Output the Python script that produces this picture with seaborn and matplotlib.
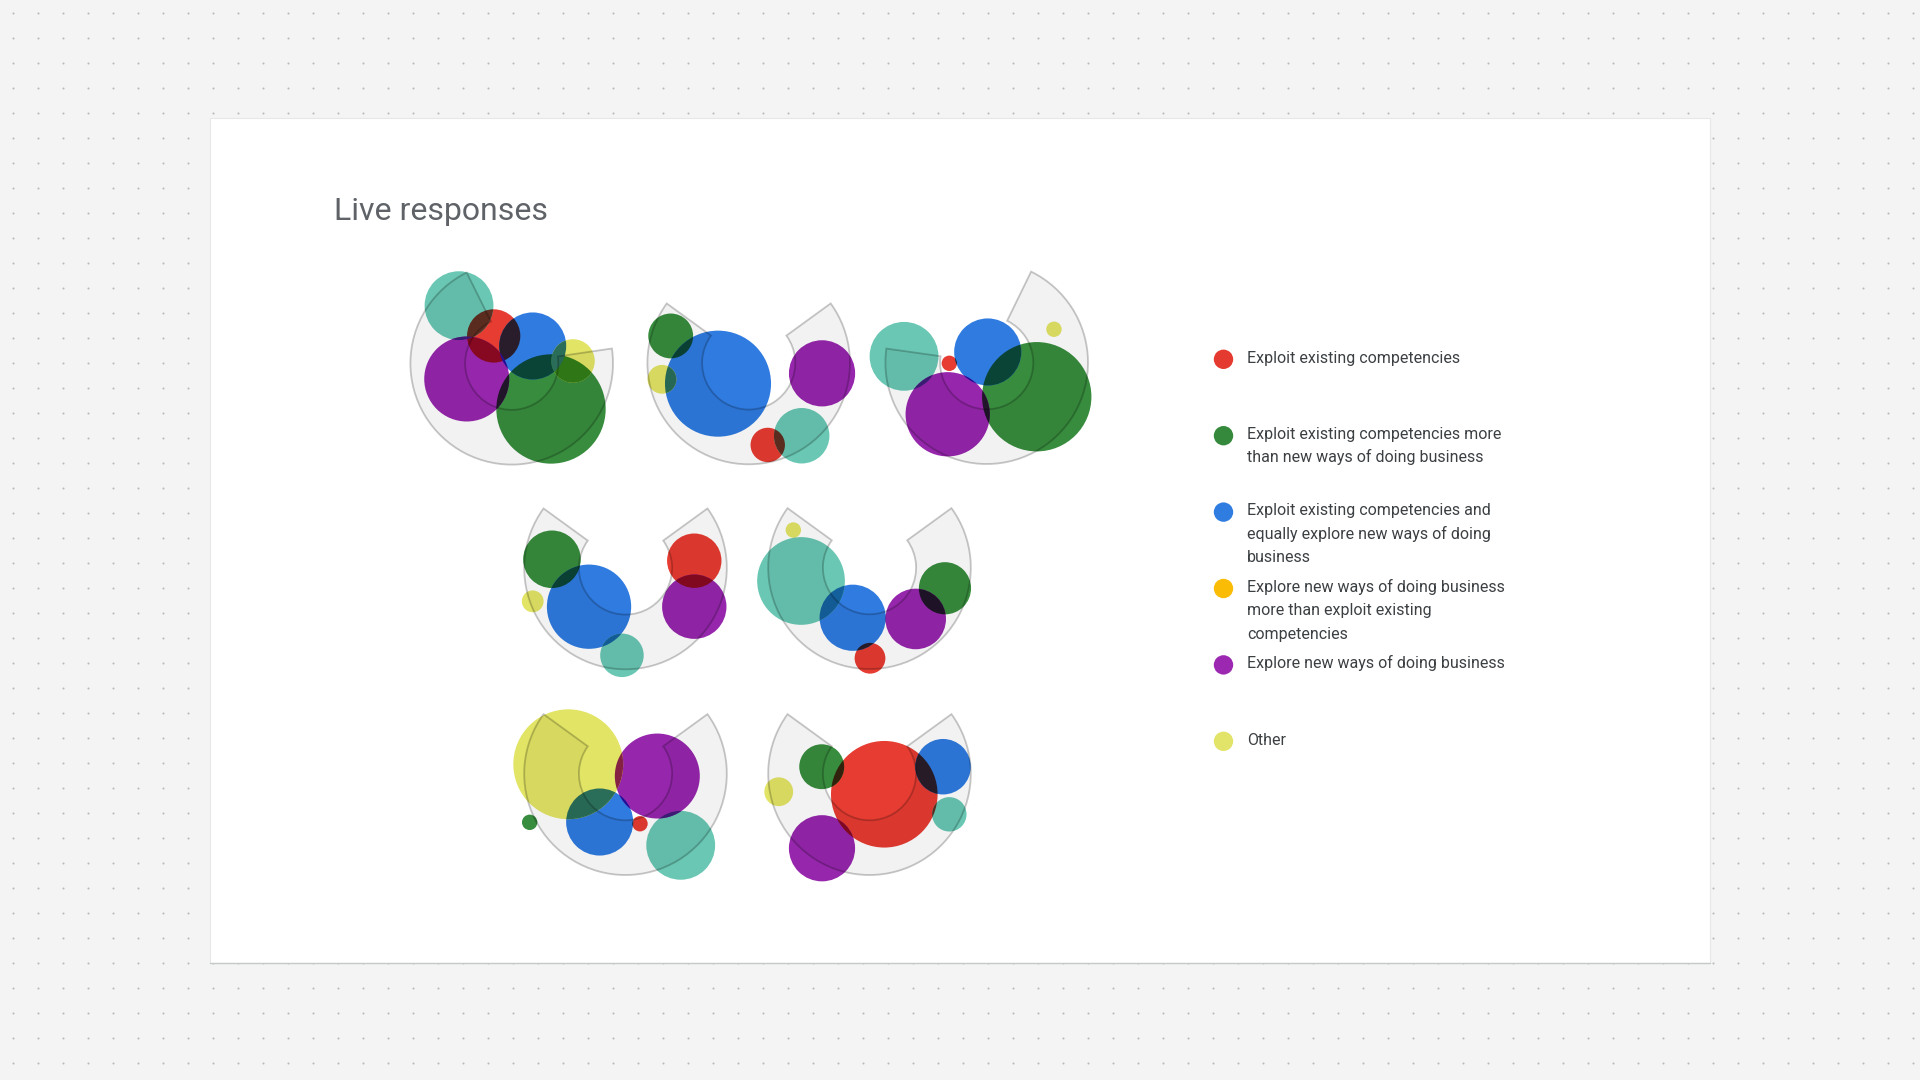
import numpy as np
import pandas as pd
import matplotlib
matplotlib.use("Agg")
import matplotlib.pyplot as plt
import seaborn as sns
from matplotlib.patches import Circle, Wedge, Rectangle
from matplotlib.colors import to_rgb

# === 1. Data: responses per category for each of the seven glyphs ===
categories = [
    "Exploit existing competencies",
    "Exploit existing competencies more\nthan new ways of doing business",
    "Exploit existing competencies and\nequally explore new ways of doing\nbusiness",
    "Explore new ways of doing business\nmore than exploit existing\ncompetencies",
    "Explore new ways of doing business",
    "Other",
]
red_counts = [24, 10, 2, 25, 8, 2, 96]
green_counts = [101, 17, 101, 28, 23, 2, 17]
blue_counts = [38, 95, 38, 60, 37, 38, 26]
teal_counts = [40, 26, 40, 16, 65, 40, 10]
purple_counts = [61, 37, 60, 35, 31, 61, 37]
other_counts = [16, 7, 2, 4, 2, 102, 7]
series = [red_counts, green_counts, blue_counts, teal_counts, purple_counts, other_counts]

# colours of the bubbles (as they look on white) and of the legend dots
bubble_colors = ["#e63c31", "#378c3d", "#2f7be0", "#69c7b3", "#9626ac", "#e2e465"]
legend_colors = ["#e53a2f", "#34893c", "#2f7de1", "#fbbc05", "#9c27b0", "#e2e46a"]

# === 2. Layout of the glyphs (pixel centres, start angle of the ring) ===
glyph_cx = [511.7, 748.7, 986.7, 625.5, 869.5, 625.5, 869.5]
glyph_cy = [363.3, 363.0, 362.7, 568.0, 567.7, 773.7, 773.7]
glyph_start = [116.4, 144, 172, 144, 144, 144, 144]
SPAN = 252
RING_R = 101.3          # outer radius in px
INNER = 0.46            # inner radius as share of outer

# bubble offsets from the glyph centre, in ring radii (red, green, blue, teal, purple, other)
bubble_xy = [
    [(-0.178, 0.27), (0.388, -0.451), (0.207, 0.171), (-0.52, 0.569), (-0.444, -0.155), (0.605, 0.023)],
    [(0.188, -0.809), (-0.77, 0.267), (-0.303, -0.204), (0.523, -0.718), (0.724, -0.102), (-0.856, -0.161)],
    [(-0.369, -0.006), (0.494, -0.336), (0.01, 0.106), (-0.816, 0.063), (-0.385, -0.509), (0.664, 0.33)],
    [(0.679, 0.072), (-0.726, 0.086), (-0.36, -0.382), (-0.035, -0.862), (0.679, -0.382), (-0.916, -0.329)],
    [(0.005, -0.894), (0.745, -0.203), (-0.166, -0.494), (-0.676, -0.131), (0.456, -0.506), (-0.752, 0.372)],
    [(0.143, -0.494), (-0.946, -0.48), (-0.255, -0.477), (0.545, -0.707), (0.314, -0.023), (-0.565, 0.093)],
    [(0.146, -0.203), (-0.472, 0.069), (0.726, 0.069), (0.788, -0.401), (-0.469, -0.736), (-0.896, -0.178)],
]
SIZE_K = 0.0537         # radius (ring radii) per sqrt(response)

# === 3. Figure ===
sns.set_theme(style="white")
plt.rcParams["font.family"] = ["Roboto", "DejaVu Sans"]

W, H = 1920, 1080
fig = plt.figure(figsize=(W / 100, H / 100), dpi=100, facecolor="#f3f4f3")
bg = fig.add_axes([0, 0, 1, 1])

# dotted canvas + white card
gx, gy = np.meshgrid(np.arange(12.5, W, 25), np.arange(12.5, H, 25))
bg.scatter(gx.ravel(), gy.ravel(), s=2.2, c="#b7bbbb", linewidths=0, zorder=0)
bg.add_patch(Rectangle((210, 117.5), 1500, 845, facecolor="white",
                       edgecolor="#e6e8e8", lw=0.8, zorder=1))
bg.plot([210, 1710], [962.8, 962.8], color="#c6c9c9", lw=1.0, zorder=1)

bg.text(334, 220.5, "Live responses", fontsize=23, color="#5f6368",
        va="baseline", ha="left", zorder=2)

# legend
leg = pd.DataFrame({"category": categories,
                    "x": [1223.5] * 6,
                    "y": [359.3 + 76.4 * i for i in range(6)]})
sns.scatterplot(data=leg, x="x", y="y", hue="category", palette=legend_colors,
                s=195, linewidth=0, legend=False, ax=bg, zorder=3)
for i, row in leg.iterrows():
    for k, line in enumerate(row["category"].split("\n")):
        bg.text(1247, row["y"] + 3.4 + 23.3 * k, line, fontsize=11.5,
                color="#3c4043", va="baseline", ha="left", zorder=3)
bg.set_xlim(0, W)
bg.set_ylim(H, 0)
bg.axis("off")


def multiply(c1, c2):
    a, b = np.array(to_rgb(c1)), np.array(to_rgb(c2))
    return tuple(a * b)


# glyphs
S = 360
lim = S / 2 / RING_R
for g in range(len(glyph_cx)):
    ax = fig.add_axes([(glyph_cx[g] - S / 2) / W, (H - glyph_cy[g] - S / 2) / H, S / W, S / H])
    ax.set_xlim(-lim, lim)
    ax.set_ylim(-lim, lim)
    ax.axis("off")
    ax.patch.set_alpha(0)

    circles = []
    for c in range(len(categories)):
        x, y = bubble_xy[g][c]
        r = SIZE_K * np.sqrt(series[c][g])
        circles.append((x, y, r, bubble_colors[c]))
        ax.add_patch(Circle((x, y), r, facecolor=bubble_colors[c], lw=0, zorder=2))

    # darken overlaps like a multiply blend
    for i in range(len(circles)):
        for j in range(i + 1, len(circles)):
            xi, yi, ri, ci = circles[i]
            xj, yj, rj, cj = circles[j]
            if np.hypot(xi - xj, yi - yj) < ri + rj:
                clip = Circle((xi, yi), ri, transform=ax.transData)
                p = Circle((xj, yj), rj, facecolor=multiply(ci, cj), lw=0, zorder=3)
                ax.add_patch(p)
                p.set_clip_path(clip)

    ring = Wedge((0, 0), 1.0, glyph_start[g], glyph_start[g] + SPAN, width=1 - INNER,
                 facecolor=(0, 0, 0, 0.05), edgecolor=(0, 0, 0, 0.22), lw=1.3, zorder=4)
    ax.add_patch(ring)

fig.savefig("out.png", dpi=100, facecolor=fig.get_facecolor())
